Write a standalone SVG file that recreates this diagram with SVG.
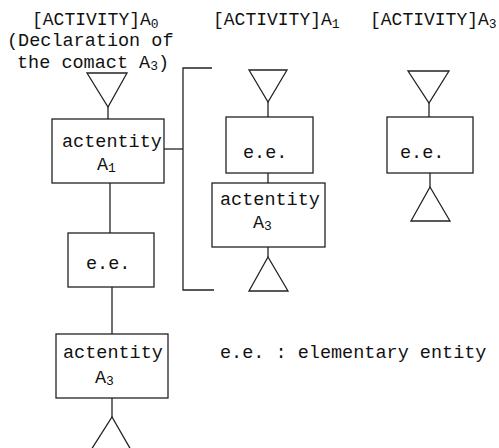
<svg xmlns="http://www.w3.org/2000/svg" width="499" height="448" viewBox="0 0 499 448">
<style>
text{font-family:"Liberation Mono","DejaVu Sans Mono",monospace;font-size:18.5px;fill:#111}
.hd{font-size:18px}
.sub{font-size:13px}
.box,polygon,line,polyline{fill:none;stroke:#222;stroke-width:1.3}
</style>
<rect x="0" y="0" width="499" height="448" style="fill:#fff;stroke:none"/>
<g id="headers">
<text class="hd" x="32" y="25">[ACTIVITY]A<tspan class="sub" dy="3">0</tspan></text>
<text x="7" y="46">(Declaration of</text>
<text x="17" y="68">the comact A<tspan class="sub" dy="2">3</tspan><tspan dy="-2">)</tspan></text>
<text class="hd" x="213" y="25">[ACTIVITY]A<tspan class="sub" dy="3">1</tspan></text>
<text class="hd" x="370" y="25">[ACTIVITY]A<tspan class="sub" dy="3">3</tspan></text>
</g>
<g id="legend"><text x="220" y="358">e.e. : elementary entity</text></g>
<g id="connectors">
<line x1="108" y1="107" x2="108" y2="119"/>
<line x1="110" y1="183" x2="110" y2="233"/>
<line x1="112" y1="287" x2="112" y2="334"/>
<line x1="112" y1="398" x2="112" y2="417"/>
<line x1="164" y1="149" x2="183" y2="149"/>
<polyline points="212,68 183,68 183,290 214,290"/>
<line x1="268" y1="102" x2="268" y2="117"/>
<line x1="268" y1="173" x2="268" y2="183"/>
<line x1="268" y1="247" x2="268" y2="257"/>
<line x1="429" y1="103" x2="429" y2="117"/>
<line x1="430" y1="173" x2="430" y2="187"/>
</g>
<g id="a0-in"><polygon points="87,73 127,73 108,107"/></g>
<g id="a0-actA1"><rect class="box" x="52" y="119" width="112" height="64"/><text x="62" y="147">actentity</text><text x="97" y="170">A<tspan class="sub" dy="2">1</tspan></text></g>
<g id="a0-ee"><rect class="box" x="68" y="233" width="86" height="54"/><text x="86" y="269">e.e.</text></g>
<g id="a0-actA3"><rect class="box" x="56" y="334" width="112" height="64"/><text x="63" y="358">actentity</text><text x="95" y="383">A<tspan class="sub" dy="2">3</tspan></text></g>
<g id="a0-out"><polyline points="91,450 112,417 131,450"/></g>
<g id="a1-in"><polygon points="249,70 287,70 268,102"/></g>
<g id="a1-ee"><rect class="box" x="226" y="117" width="87" height="56"/><text x="243" y="158">e.e.</text></g>
<g id="a1-actA3"><rect class="box" x="212" y="183" width="113" height="64"/><text x="220" y="205">actentity</text><text x="253" y="228">A<tspan class="sub" dy="2">3</tspan></text></g>
<g id="a1-out"><polygon points="268,257 288,291 249,291"/></g>
<g id="a3-in"><polygon points="408,71 449,71 429,103"/></g>
<g id="a3-ee"><rect class="box" x="387" y="117" width="86" height="56"/><text x="400" y="158">e.e.</text></g>
<g id="a3-out"><polygon points="430,187 450,221 411,221"/></g>
</svg>
